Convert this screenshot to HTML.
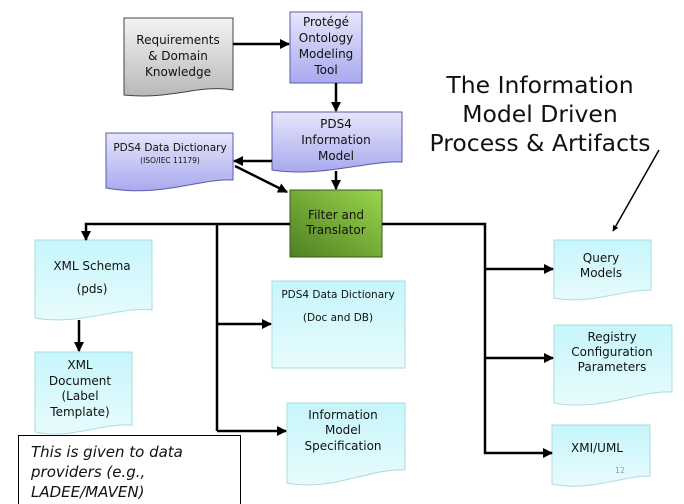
<!DOCTYPE html>
<html><head><meta charset="utf-8"><style>
html,body{margin:0;padding:0;background:#fff;}
svg{display:block;font-family:"DejaVu Sans","Liberation Sans",sans-serif;}
</style></head><body>
<svg width="684" height="504" viewBox="0 0 684 504" xmlns="http://www.w3.org/2000/svg">
<defs>
<linearGradient id="gray" x1="0" y1="0" x2="0" y2="1"><stop offset="0" stop-color="#f4f4f4"/><stop offset="1" stop-color="#b8b8b8"/></linearGradient>
<linearGradient id="blue" x1="0" y1="0" x2="0" y2="1"><stop offset="0" stop-color="#e6e6fb"/><stop offset="1" stop-color="#a9a9ee"/></linearGradient>
<linearGradient id="green" x1="1" y1="0" x2="0" y2="1"><stop offset="0" stop-color="#9ad64a"/><stop offset="1" stop-color="#4f7f23"/></linearGradient>
<linearGradient id="cyan" x1="0" y1="0" x2="0" y2="1"><stop offset="0" stop-color="#c6f6fb"/><stop offset="1" stop-color="#e8fbfd"/></linearGradient>
<marker id="ah" viewBox="0 0 10 10" refX="9" refY="5" markerWidth="4" markerHeight="4" orient="auto"><path d="M0,0 L10,5 L0,10 Z" fill="#000"/></marker>
</defs>
<g stroke-width="1">
<path d="M124,18 H233 V90 C200,84 170,100 124,95 Z" fill="url(#gray)" stroke="#444"/>
<rect x="290" y="12" width="72" height="71" fill="url(#blue)" stroke="#5a5aa8"/>
<path d="M272,112 H402 V162 C370,160 320,178 272,170 Z" fill="url(#blue)" stroke="#5a5aa8"/>
<path d="M106,133 H233 V180 C200,178 160,198 106,188 Z" fill="url(#blue)" stroke="#5a5aa8"/>
<rect x="290" y="190" width="92" height="67" fill="url(#green)" stroke="#3a5a1a"/>
<path d="M35,240 H152 V310 C120,306 80,326 35,318 Z" fill="url(#cyan)" stroke="#a8dde2"/>
<path d="M35,352 H132 V425 C100,423 70,440 35,432 Z" fill="url(#cyan)" stroke="#a8dde2"/>
<rect x="272" y="281" width="133" height="87" fill="url(#cyan)" stroke="#a8dde2"/>
<path d="M287,403 H405 V470 C370,468 330,492 287,483 Z" fill="url(#cyan)" stroke="#a8dde2"/>
<path d="M554,240 H651 V290 C620,290 590,305 554,298 Z" fill="url(#cyan)" stroke="#a8dde2"/>
<path d="M554,325 H672 V392 C640,390 600,412 554,403 Z" fill="url(#cyan)" stroke="#a8dde2"/>
<path d="M552,425 H650 V476 C620,476 590,492 552,484 Z" fill="url(#cyan)" stroke="#a8dde2"/>
<rect x="18.5" y="435.5" width="222" height="70" fill="#fff" stroke="#000"/>
</g>
<g stroke="#000" stroke-width="2.5" fill="none">
<line x1="233" y1="44" x2="289" y2="44" marker-end="url(#ah)"/>
<line x1="336" y1="83" x2="336" y2="111" marker-end="url(#ah)"/>
<line x1="272" y1="161" x2="234" y2="161" marker-end="url(#ah)"/>
<line x1="235" y1="166" x2="287" y2="192" marker-end="url(#ah)"/>
<line x1="336" y1="171" x2="336" y2="189" marker-end="url(#ah)"/>
<polyline points="290,224 86,224 86,240" marker-end="url(#ah)"/>
<line x1="217" y1="224" x2="217" y2="431"/>
<line x1="217" y1="324" x2="271" y2="324" marker-end="url(#ah)"/>
<polyline points="217,431 286,431" marker-end="url(#ah)"/>
<polyline points="382,224 485,224 485,453 552,453" marker-end="url(#ah)"/>
<line x1="485" y1="269" x2="553" y2="269" marker-end="url(#ah)"/>
<line x1="485" y1="358" x2="553" y2="358" marker-end="url(#ah)"/>
<line x1="79" y1="320" x2="79" y2="351" marker-end="url(#ah)"/>
<line x1="659" y1="150" x2="613" y2="231" stroke-width="1.5" marker-end="url(#ah)"/>
</g>
<g font-size="12" fill="#111" text-anchor="middle">
<text x="178" y="44">Requirements</text><text x="178" y="60">&amp; Domain</text><text x="178" y="76">Knowledge</text>
<text x="326" y="26">Protégé</text><text x="326" y="42">Ontology</text><text x="326" y="58">Modeling</text><text x="326" y="74">Tool</text>
<text x="336" y="128">PDS4</text><text x="336" y="144">Information</text><text x="336" y="160">Model</text>
<text x="170" y="151" font-size="10.5">PDS4 Data Dictionary</text><text x="170" y="163" font-size="7.5">(ISO/IEC 11179)</text>
<text x="336" y="219">Filter and</text><text x="336" y="234">Translator</text>
<text x="92" y="270">XML Schema</text><text x="92" y="293">(pds)</text>
<text x="338" y="298" font-size="10.5">PDS4 Data Dictionary</text><text x="338" y="321" font-size="10.5">(Doc and DB)</text>
<text x="343" y="419">Information</text><text x="343" y="434">Model</text><text x="343" y="450">Specification</text>
<text x="80" y="369">XML</text><text x="80" y="385">Document</text><text x="80" y="400">(Label</text><text x="80" y="416">Template)</text>
<text x="601" y="262">Query</text><text x="601" y="277">Models</text>
<text x="612" y="341">Registry</text><text x="612" y="356">Configuration</text><text x="612" y="371">Parameters</text>
<text x="597" y="452">XMI/UML</text>
<text x="620" y="473" font-size="8" fill="#999">12</text>
<text x="540" y="93" font-size="23.5">The Information</text>
<text x="540" y="122" font-size="23.5">Model Driven</text>
<text x="540" y="151" font-size="23.5">Process &amp; Artifacts</text>
</g>
<g font-size="15" font-style="italic" fill="#111">
<text x="31" y="457">This is given to data</text>
<text x="31" y="477">providers (e.g.,</text>
<text x="31" y="497">LADEE/MAVEN)</text>
</g>
</svg>
</body></html>
